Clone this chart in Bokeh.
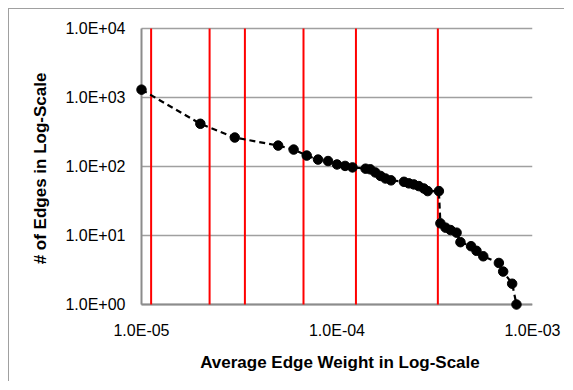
import numpy as np
from bokeh.plotting import figure
from bokeh.models import FixedTicker, CustomJSTickFormatter
from bokeh.embed import file_html
from bokeh.resources import INLINE

# ---- data ----
weights = [1.0e-5, 2.0e-5, 3.0e-5, 5.0e-5, 6.0e-5, 7.0e-5, 8.0e-5, 9.0e-5,
           1.0e-4, 1.1e-4, 1.2e-4, 1.4e-4, 1.48e-4, 1.57e-4, 1.67e-4, 1.77e-4,
           1.89e-4, 2.2e-4, 2.33e-4, 2.47e-4, 2.62e-4, 2.78e-4, 2.91e-4, 3.32e-4,
           3.38e-4, 3.59e-4, 3.81e-4, 4.09e-4, 4.28e-4, 4.85e-4, 5.17e-4, 5.6e-4,
           6.73e-4, 7.08e-4, 7.87e-4, 8.28e-4]
edges = [1300, 416, 263, 201, 176, 144, 126, 120,
         107, 102, 97, 93, 91, 82, 73, 67,
         63, 60, 57, 55, 52, 48, 44, 44,
         15, 13, 12, 11, 8, 7, 6, 5,
         4, 3, 2, 1]
red_lines = [1.12e-5, 2.23e-5, 3.38e-5, 6.74e-5, 1.25e-4, 3.28e-4]
x_ticks = [1e-5, 1e-4, 1e-3]
y_ticks = [1, 10, 100, 1000, 10000]

# ---- layout geometry ----
PXD_X, PXD_Y = 195.5, 69.0
PAD_L, PAD_B, PAD_T = 6, 6, 2
x_lo = 10 ** (np.log10(x_ticks[0]) - PAD_L / PXD_X)
x_hi = x_ticks[-1]
y_lo = 10 ** (np.log10(y_ticks[0]) - PAD_B / PXD_Y)
y_hi = 10 ** (np.log10(y_ticks[-1]) + PAD_T / PXD_Y)

p = figure(width=556, height=373, x_axis_type="log", y_axis_type="log",
           x_range=(x_lo, x_hi), y_range=(y_lo, y_hi),
           output_backend="svg", toolbar_location=None,
           min_border_left=126, min_border_right=33,
           min_border_top=17, min_border_bottom=72)
# outer chart border (only its top and left edges fall inside the window)
p.styles = {"margin-left": "8px", "margin-top": "8px",
            "border-top": "1px solid #a0a0a0", "border-left": "1px solid #a0a0a0"}
p.outline_line_color = None
p.xgrid.visible = False
p.ygrid.visible = False
p.background_fill_color = "white"
p.border_fill_color = "white"

GRAY = "#a0a0a0"
# horizontal gridlines
p.segment(x0=[x_ticks[0]] * len(y_ticks), x1=[x_ticks[-1]] * len(y_ticks),
          y0=y_ticks, y1=y_ticks, line_color=GRAY, line_width=1.5)
# axis lines
p.segment(x0=[x_ticks[0], x_ticks[0]], x1=[x_ticks[0], x_ticks[-1]],
          y0=[y_ticks[0], y_ticks[0]], y1=[y_ticks[-1], y_ticks[0]],
          line_color="#8c8c8c", line_width=2)
# red vertical lines
p.segment(x0=red_lines, x1=red_lines, y0=[y_ticks[0]] * len(red_lines),
          y1=[y_ticks[-1]] * len(red_lines), line_color="#ff0000", line_width=2)
# data
p.line(weights, edges, line_color="black", line_width=2.2, line_dash="6 4")
p.scatter(weights, edges, size=9.5, fill_color="black", line_color="black")

fmt = CustomJSTickFormatter(code="""
const e = Math.round(Math.log10(tick));
const s = e < 0 ? '-' : '+';
const a = Math.abs(e);
return '1.0E' + s + (a < 10 ? '0' : '') + a;
""")

for ax, ticks in ((p.xaxis, x_ticks), (p.yaxis, y_ticks)):
    ax.ticker = FixedTicker(ticks=ticks)
    ax.formatter = fmt
    ax.axis_line_color = None
    ax.major_tick_line_color = None
    ax.minor_tick_line_color = None
    ax.major_tick_out = 0
    ax.major_tick_in = 0
    ax.minor_tick_out = 0
    ax.major_label_text_font = "Liberation Sans"
    ax.major_label_text_font_size = "16px"
    ax.major_label_text_color = "black"
    ax.axis_label_text_font = "Liberation Sans"
    ax.axis_label_text_font_size = "17px"
    ax.axis_label_text_font_style = "bold"
    ax.axis_label_text_color = "black"

p.xaxis.axis_label = "\u2002\u2009Average Edge Weight in Log-Scale"
p.yaxis.axis_label = "# of Edges in Log-Scale"
p.xaxis.major_label_standoff = 11
p.yaxis.major_label_standoff = 10
p.xaxis.axis_label_standoff = 11
p.yaxis.axis_label_standoff = 12

open("out.html", "w").write(file_html(p, INLINE))
